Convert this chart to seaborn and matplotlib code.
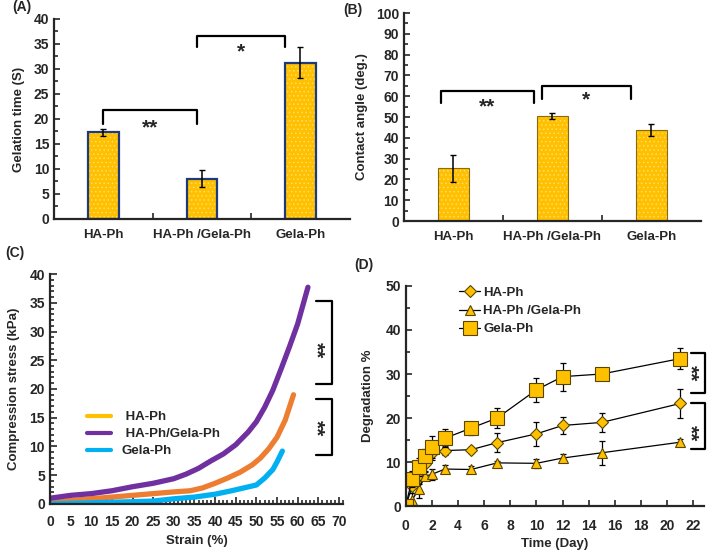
import matplotlib
matplotlib.use("Agg")
import matplotlib.pyplot as plt
import seaborn as sns
import numpy as np
import pandas as pd
from matplotlib.lines import Line2D
from matplotlib.patches import Rectangle
from matplotlib.ticker import MultipleLocator

# ---- data ----
groups = ["HA-Ph", "HA-Ph /Gela-Ph", "Gela-Ph"]
gel_time = [17.3, 8.0, 31.2]
gel_err = [0.7, 1.7, 3.1]
contact = [25.3, 50.4, 43.6]
contact_err = [6.5, 1.5, 2.9]

strain_mix = [0, 5, 10, 15, 20, 25, 30, 33, 36, 39, 42, 45, 48, 50, 52, 54, 56, 58, 60, 62.5]
stress_mix = [1.0, 1.5, 1.8, 2.3, 3.0, 3.6, 4.4, 5.2, 6.2, 7.5, 8.7, 10.3, 12.5, 14.3, 16.8, 19.8, 23.5, 27.3, 31.3, 37.7]
strain_ha = [0, 5, 10, 15, 20, 25, 30, 34, 37, 40, 43, 46, 49, 51, 53, 55, 57, 59]
stress_ha = [0.3, 0.6, 0.9, 1.2, 1.5, 1.8, 2.1, 2.3, 2.8, 3.6, 4.5, 5.5, 6.8, 8.0, 9.6, 11.6, 14.6, 19.0]
strain_gela = [0, 5, 10, 15, 20, 25, 30, 35, 40, 44, 47, 50, 52, 54, 55, 56.3]
stress_gela = [0.0, 0.1, 0.2, 0.3, 0.4, 0.5, 0.9, 1.2, 1.7, 2.3, 2.8, 3.3, 4.5, 6.0, 7.3, 9.2]

days = [0, 0.5, 1, 1.5, 2, 3, 5, 7, 10, 12, 15, 21]
deg_ha = [0, 4.5, 6.4, 9.5, 12.0, 12.6, 12.8, 14.4, 16.4, 18.3, 19.0, 23.3]
deg_ha_err = [0, 1.5, 1.5, 1.5, 1.5, 1.0, 0.7, 2.2, 2.7, 2.0, 2.1, 3.2]
deg_mix = [0, 1.4, 3.9, 6.8, 7.2, 8.4, 8.3, 9.8, 9.7, 10.9, 12.1, 14.5]
deg_mix_err = [0, 1.5, 2.0, 1.0, 1.3, 1.0, 0.7, 0.5, 1.0, 1.0, 2.7, 0.8]
deg_gela = [0, 6.2, 8.8, 11.4, 13.3, 15.4, 17.7, 20.0, 26.4, 29.4, 30.0, 33.5]
deg_gela_err = [0, 1.8, 2.0, 1.5, 2.5, 2.0, 1.5, 2.2, 2.8, 3.2, 0.9, 2.3]

sns.set_theme(style="ticks")
plt.rcParams['font.family'] = ['Liberation Sans', 'DejaVu Sans']
plt.rcParams['font.weight'] = 'bold'
plt.rcParams['axes.labelweight'] = 'bold'
plt.rcParams['axes.linewidth'] = 1.6
plt.rcParams['hatch.linewidth'] = 0.6

gold = "#FFC000"
TICK = 10
LAB = 9.5
fig = plt.figure(figsize=(7.08, 5.52), dpi=100)
axA = fig.add_axes([0.0763, 0.6033, 0.4177, 0.3623])
axB = fig.add_axes([0.5706, 0.5996, 0.4194, 0.3768])
axC = fig.add_axes([0.0706, 0.0870, 0.4139, 0.4166])
axD = fig.add_axes([0.5730, 0.0833, 0.4210, 0.3986])


def bar_panel(ax, vals, errs, ymax, major, minor, ylabel, edge, elw):
    df = pd.DataFrame({"group": groups, "value": vals})
    sns.barplot(data=df, x="group", y="value", color=gold, errorbar=None,
                width=0.31, saturation=1, edgecolor="#FFDB70", linewidth=0, ax=ax)
    for p in list(ax.patches):
        p.set_hatch("....")
        ax.add_patch(Rectangle(p.get_xy(), p.get_width(), p.get_height(),
                               fill=False, edgecolor=edge, lw=elw, zorder=p.get_zorder() + 0.1))
    ax.errorbar(range(3), vals, yerr=errs, fmt="none", ecolor="black",
                elinewidth=1.1, capsize=2.2, capthick=1.0, zorder=5)
    ax.set_xlim(-0.5, 2.5)
    ax.set_ylim(0, ymax)
    ax.yaxis.set_major_locator(MultipleLocator(major))
    ax.yaxis.set_minor_locator(MultipleLocator(minor))
    ax.set_xticks([0.5, 1.5], minor=True)
    ax.tick_params(axis="x", which="major", length=0, labelsize=LAB, pad=7)
    ax.tick_params(axis="x", which="minor", direction="in", length=4, width=1.2)
    ax.tick_params(axis="y", which="both", direction="in", width=1.2, labelsize=TICK)
    ax.tick_params(axis="y", which="major", length=4)
    ax.tick_params(axis="y", which="minor", length=3)
    ax.set_xlabel("")
    ax.set_ylabel(ylabel, fontsize=LAB, labelpad=6)
    sns.despine(ax=ax)


def bracket(ax, x1, x2, y, low, label, ty):
    ax.plot([x1, x1, x2, x2], [low, y, y, low], color="black", lw=1.6, clip_on=False)
    ax.text((x1 + x2) / 2, ty, label, ha="center", va="center", fontsize=15, fontweight="bold")


bar_panel(axA, gel_time, gel_err, 40, 5, 2.5, "Gelation time (S)", "#1F3A78", 1.6)
bracket(axA, 0.0, 0.95, 21.8, 19.0, "**", 18.3)
bracket(axA, 0.95, 1.84, 36.6, 34.4, "*", 33.5)

bar_panel(axB, contact, contact_err, 100, 10, 5, "Contact angle (deg.)", "#8A6A10", 0.8)
bracket(axB, -0.13, 0.81, 62.5, 56.7, "**", 55.1)
bracket(axB, 0.89, 1.79, 64.9, 58.7, "*", 58.0)

# ---- C: compression ----
curves = pd.concat([
    pd.DataFrame({"strain": strain_ha, "stress": stress_ha, "s": "HA-Ph"}),
    pd.DataFrame({"strain": strain_mix, "stress": stress_mix, "s": "HA-Ph/Gela-Ph"}),
    pd.DataFrame({"strain": strain_gela, "stress": stress_gela, "s": "Gela-Ph"}),
])
sns.lineplot(data=curves, x="strain", y="stress", hue="s",
             palette={"HA-Ph": "#ED7D31", "HA-Ph/Gela-Ph": "#7030A0", "Gela-Ph": "#00B0F0"},
             lw=3.8, legend=False, ax=axC, sort=False)
axC.set_xlim(0, 71)
axC.set_ylim(0, 40)
axC.xaxis.set_major_locator(MultipleLocator(5))
axC.xaxis.set_minor_locator(MultipleLocator(1))
axC.yaxis.set_major_locator(MultipleLocator(5))
axC.yaxis.set_minor_locator(MultipleLocator(1))
axC.tick_params(which="both", direction="in", width=1.2, labelsize=TICK)
axC.tick_params(which="major", length=5)
axC.tick_params(which="minor", length=3)
axC.tick_params(axis="x", pad=8)
axC.set_xlabel("Strain (%)", fontsize=LAB)
axC.set_ylabel("Compression stress (kPa)", fontsize=LAB, labelpad=7)
sns.despine(ax=axC)
handles = [Line2D([], [], color=c, lw=3) for c in ["#FFC000", "#7030A0", "#00B0F0"]]
axC.legend(handles, [" HA-Ph", " HA-Ph/Gela-Ph", "Gela-Ph"], loc="upper left",
           bbox_to_anchor=(0.085, 0.455), frameon=False,
           handlelength=1.8, handletextpad=0.85, labelspacing=0.35,
           prop={"weight": "bold", "size": LAB})
for (y1, y2, ty) in [(35.3, 20.9, 26.7), (18.3, 8.5, 13.2)]:
    axC.plot([64.5, 68.4, 68.4, 64.5], [y1, y1, y2, y2], color="black", lw=1.6, clip_on=False)
    axC.text(64.4, ty, "**", rotation=-90, ha="center", va="center", fontsize=15, fontweight="bold")

# ---- D: degradation ----
series = [("HA-Ph", deg_ha, deg_ha_err, "D", 6.3),
          ("HA-Ph /Gela-Ph", deg_mix, deg_mix_err, "^", 7.5),
          ("Gela-Ph", deg_gela, deg_gela_err, "s", 9.5)]
for name, vals, errs, mk, ms in series:
    axD.errorbar(days, vals, yerr=errs, fmt="none",
                 ecolor="black", elinewidth=0.9, capsize=2.2, capthick=0.9)
    sns.lineplot(x=days, y=vals, ax=axD, color="black", lw=0.9, marker=mk, markersize=ms,
                 markerfacecolor=gold, markeredgecolor="#5A4500", markeredgewidth=0.8,
                 label=name)
axD.set_xlim(0, 22.8)
axD.set_ylim(0, 50)
axD.xaxis.set_major_locator(MultipleLocator(2))
axD.yaxis.set_major_locator(MultipleLocator(10))
axD.yaxis.set_minor_locator(MultipleLocator(5))
axD.tick_params(which="both", direction="in", width=1.2, labelsize=TICK)
axD.tick_params(which="major", length=4)
axD.tick_params(which="minor", length=3)
axD.tick_params(axis="x", pad=9)
axD.set_xlabel("Time (Day)", fontsize=LAB)
axD.set_ylabel("Degradation %", fontsize=LAB, labelpad=8)
sns.despine(ax=axD)
axD.legend(loc="upper left", bbox_to_anchor=(0.14, 1.05), frameon=False,
           handlelength=1.6, handletextpad=0.2, labelspacing=0.45,
           prop={"weight": "bold", "size": LAB})
for (y1, y2, ty) in [(34.8, 25.6, 30.2), (23.4, 12.9, 16.6)]:
    axD.plot([21.85, 22.9, 22.9, 21.85], [y1, y1, y2, y2], color="black", lw=1.6, clip_on=False)
    axD.text(21.75, ty, "**", rotation=-90, ha="center", va="center", fontsize=15, fontweight="bold")

# panel letters
for txt, x, y in [("(A)", 0.017, 0.987), ("(B)", 0.485, 0.982),
                  ("(C)", 0.008, 0.541), ("(D)", 0.500, 0.520)]:
    fig.text(x, y, txt, fontsize=LAB + 0.5, fontweight="bold", va="center")

fig.savefig("out.png", dpi=100)
